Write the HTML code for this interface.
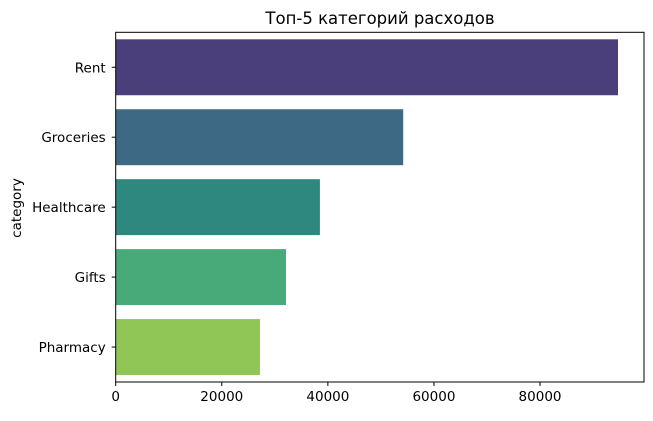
<!DOCTYPE html>
<html><head><meta charset="utf-8"><style>
body{margin:0;background:#fff;font-family:"Liberation Sans","DejaVu Sans",sans-serif}
svg text{font-family:"DejaVu Sans","Liberation Sans",sans-serif;font-size:13.5px;fill:#000}
</style></head><body>
<svg id="c" width="653" height="416">
<text x="380" y="24" text-anchor="middle" style="font-size:16.5px">Топ-5 категорий расходов</text>
<text transform="translate(21,208) rotate(-90)" text-anchor="middle">category</text>
</svg>
<script>
const categories=["Rent","Groceries","Healthcare","Gifts","Pharmacy"];
const values=[94700,54200,38500,32100,27200];
const colors=["#4a3f7a","#3e6985","#2e8880","#47aa78","#90c656"];
const xticks=[0,20000,40000,60000,80000];
const svg=document.getElementById('c');const NS="http://www.w3.org/2000/svg";
const L=115.7,R=644,T=32.3,B=382,xmax=99600;
const x=v=>L+v/xmax*(R-L);
const band=(B-T)/categories.length;
const y=i=>T+band*i+band/2;
function mk(t,a){const e=document.createElementNS(NS,t);for(const k in a)e.setAttribute(k,a[k]);svg.appendChild(e);return e;}
categories.forEach((c,i)=>{
 const r=mk('rect',{x:L,y:y(i)-band*0.4,width:x(values[i])-L,height:band*0.8,fill:colors[i]});
 
 
 mk('line',{x1:L-4,x2:L,y1:y(i),y2:y(i),stroke:'#000'});
 const t=mk('text',{x:L-10,y:y(i)+5,'text-anchor':'end'});t.textContent=c;
 
 
});
xticks.forEach(v=>{
 mk('line',{x1:x(v),x2:x(v),y1:B,y2:B+4,stroke:'#000'});
 const t=mk('text',{x:x(v),y:B+19,'text-anchor':'middle'});t.textContent=v;
 
 
});
const f=mk('rect',{x:L,y:T,width:R-L,height:B-T,fill:'none',stroke:'#000','stroke-width':1});


</script>
</body></html>
